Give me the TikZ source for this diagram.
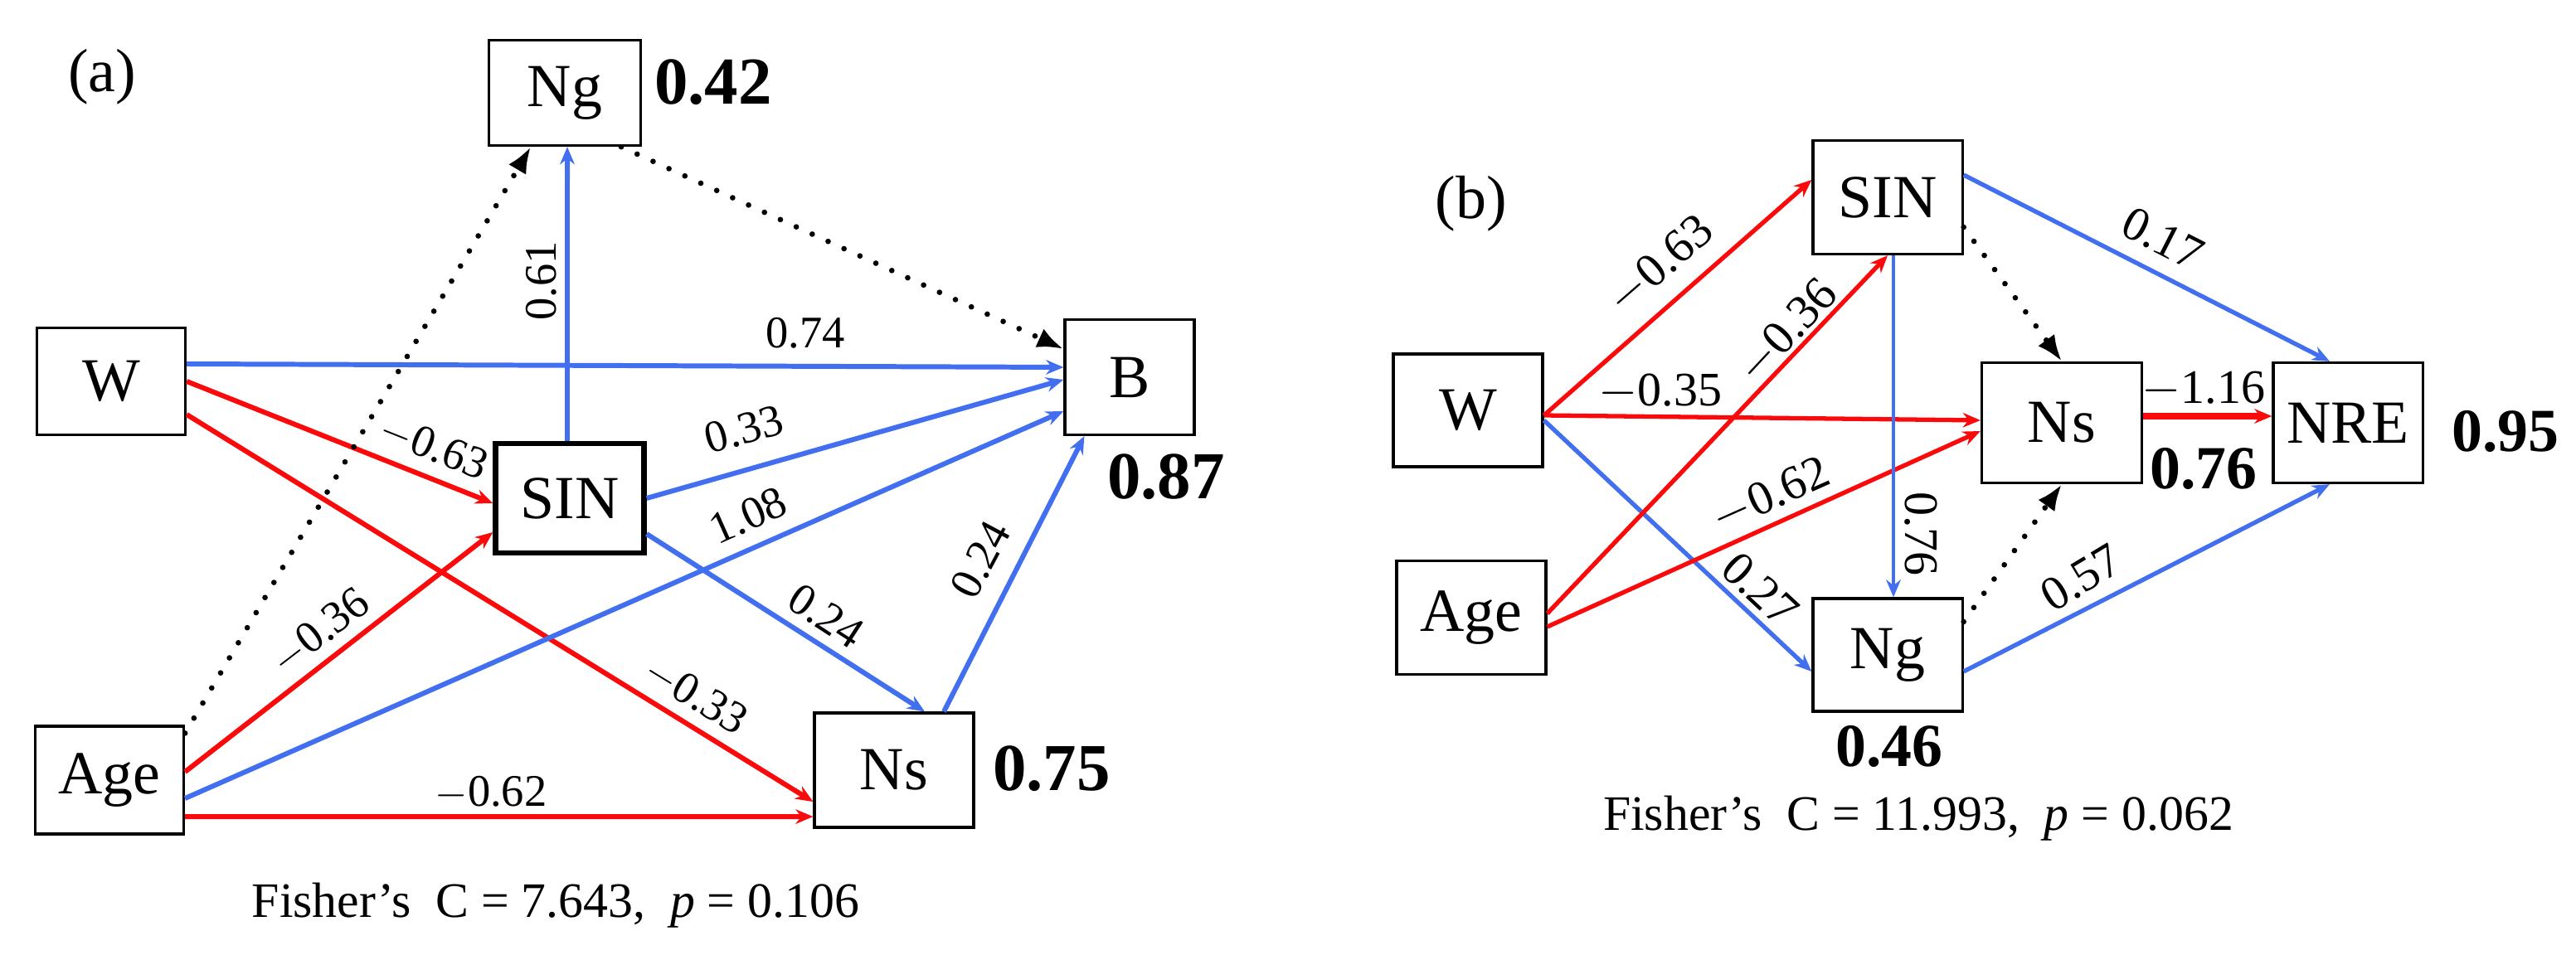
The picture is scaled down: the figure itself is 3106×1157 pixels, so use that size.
\documentclass[tikz,border=0pt]{standalone}
\usepackage{fontspec}
\setmainfont{Liberation Serif}
\usetikzlibrary{arrows.meta}
\definecolor{myred}{RGB}{250,10,10}
\definecolor{myblue}{RGB}{66,110,240}
\begin{document}
\begin{tikzpicture}[x=0.01cm,y=-0.01cm,
  box/.style={draw,line width=0.9pt,inner sep=0pt,minimum width=1.8cm,minimum height=1.32cm,font=\fontsize{21}{21}\selectfont},
  bnum/.style={font=\fontsize{23}{23}\selectfont\bfseries,inner sep=0pt},
  bnumb/.style={font=\fontsize{21}{21}\selectfont\bfseries,inner sep=0pt},
  lab/.style={font=\fontsize{15.5}{15.5}\selectfont,inner sep=0pt},
  labb/.style={font=\fontsize{16.5}{16.5}\selectfont,inner sep=0pt},
  posA/.style={myblue,line width=1.7pt,-{Stealth[length=6pt,width=5pt]}},
  negA/.style={myred,line width=1.7pt,-{Stealth[length=6pt,width=5pt]}},
  posB/.style={myblue,line width=1.5pt,-{Stealth[length=6pt,width=5pt]}},
  negB/.style={myred,line width=1.5pt,-{Stealth[length=6pt,width=5pt]}},
  dotA/.style={black,line width=1.9pt,line cap=round,dash pattern=on 0pt off 6pt,-{Latex[length=9pt,width=7pt]}},
  fish/.style={font=\fontsize{17}{17}\selectfont,inner sep=0pt}]
\useasboundingbox (0,0) rectangle (3106,1157);
% ---------- panel (a)
\node[font=\fontsize{21}{21}\selectfont] (la) at (123,93) {(a)};
\node[box,minimum width=1.83cm,minimum height=1.27cm] (aNg) at (681,112) {Ng};
\node[bnum] (aNgv) at (860,99) {0.42};
\node[box,minimum width=1.79cm,minimum height=1.29cm] (aW) at (134,460) {W};
\node[box,minimum width=1.56cm,minimum height=1.39cm] (aB) at (1362,455) {B};
\node[bnum] (aBv) at (1406,575) {0.87};
\node[box,line width=1.8pt,minimum width=1.79cm,minimum height=1.32cm] (aSIN) at (687,601) {SIN};
\node[box,minimum width=1.79cm,minimum height=1.3cm] (aAge) at (132,941) {Age};
\node[box,minimum width=1.92cm,minimum height=1.38cm] (aNs) at (1078,929) {Ns};
\node[bnum] (aNsv) at (1268,927) {0.75};
\node[fish] (fa) at (670,1092) {Fisher{\char"0027}s\ \ C = 7.643,\ \ \textit{p} = 0.106};

\draw[posA] ([yshift=0.21cm]aW.east) -- ([yshift=0.12cm]aB.west);
\draw[negA] (aW.east) -- ([yshift=-0.06cm]aSIN.west);
\draw[negA] ([yshift=-0.4cm]aW.east) -- ([yshift=-0.38cm]aNs.west);
\draw[dotA] ([yshift=-0.1cm]aAge.north east) -- ([xshift=-0.41cm]aNg.south);
\draw[dotA] ([xshift=0.68cm]aNg.south) -- ([yshift=0.34cm]aB.west);
\draw[posA] ([xshift=-0.03cm]aSIN.north) -- ([xshift=0.03cm]aNg.south);
\draw[posA] (aSIN.east) -- ([yshift=-0.03cm]aB.west);
\draw[negA] ([yshift=0.1cm]aAge.east) -- ([yshift=-0.41cm]aSIN.west);
\draw[posA] ([yshift=-0.22cm]aAge.east) -- ([yshift=-0.41cm]aB.west);
\draw[posA] ([yshift=-0.43cm]aSIN.east) -- ([xshift=0.37cm]aNs.north);
\draw[posA] ([xshift=0.6cm]aNs.north) -- ([xshift=0.25cm]aB.south west);
\draw[negA] ([yshift=-0.44cm]aAge.east) -- ([yshift=-0.56cm]aNs.west);

\node[lab] at (971,402) {0.74};
\node[lab,rotate=90] at (653,339) {0.61};
\node[lab,rotate=-21.7] at (523,540) {$-$0.63};
\node[lab,rotate=15.6] at (897,518) {0.33};
\node[lab,rotate=24] at (902,622) {1.08};
\node[lab,rotate=-33] at (996,743) {0.24};
\node[lab,rotate=62] at (1182,675) {0.24};
\node[lab,rotate=37.5] at (386,762) {$-$0.36};
\node[lab,rotate=-31.5] at (839,839) {$-$0.33};
\node[lab] at (592,956) {$-$0.62};

% ---------- panel (b)
\node[font=\fontsize{21}{21}\selectfont] (lb) at (1774,246) {(b)};
\node[box,minimum width=1.8cm,minimum height=1.37cm] (bSIN) at (2276,238) {SIN};
\node[box,minimum width=1.8cm,minimum height=1.36cm] (bW) at (1770,495) {W};
\node[box,minimum width=1.8cm,minimum height=1.37cm] (bAge) at (1774,745) {Age};
\node[box,minimum width=1.93cm,minimum height=1.45cm] (bNs) at (2486,510) {Ns};
\node[box,minimum width=1.8cm,minimum height=1.45cm] (bNRE) at (2831,510) {NRE};
\node[box,minimum width=1.8cm,minimum height=1.36cm] (bNg) at (2276,790) {Ng};
\node[bnumb] (bNREv) at (3021,520) {0.95};
\node[bnumb] (bNsv) at (2657,565) {0.76};
\node[bnumb] (bNgv) at (2278,900) {0.46};
\node[fish] (fb) at (2313,987) {Fisher{\char"0027}s\ \ C = 11.993,\ \ \textit{p} = 0.062};

\draw[negB] ([yshift=-0.06cm]bW.east) -- ([yshift=0.21cm]bSIN.west);
\draw[negB] ([yshift=-0.06cm]bW.east) -- ([yshift=0.03cm]bNs.west);
\draw[posB] ([yshift=-0.12cm]bW.east) -- ([yshift=-0.2cm]bNg.west);
\draw[negB] ([yshift=0.05cm]bAge.east) -- (bSIN.south);
\draw[negB] ([yshift=-0.11cm]bAge.east) -- ([yshift=-0.1cm]bNs.west);
\draw[myblue,line width=1pt,-{Stealth[length=6pt,width=5pt]}] ([xshift=0.07cm]bSIN.south) -- ([xshift=0.07cm]bNg.north);
\draw[dotA] ([yshift=-0.36cm]bSIN.east) -- (bNs.north);
\draw[dotA] ([yshift=0.4cm]bNg.east) -- (bNs.south);
\draw[posB] ([yshift=0.27cm]bSIN.east) -- ([xshift=-0.22cm]bNRE.north);
\draw[posB] ([yshift=-0.2cm]bNg.east) -- ([xshift=-0.22cm]bNRE.south);
\draw[negB,line width=2pt] ([yshift=0.08cm]bNs.east) -- ([yshift=0.08cm]bNRE.west);

\node[labb,rotate=41] at (2002,320) {$-$0.63};
\node[labb,rotate=47] at (2155,400) {$-$0.36};
\node[labb] at (2002,473) {$-$0.35};
\node[labb,rotate=24] at (2135,598) {$-$0.62};
\node[labb,rotate=-43] at (2122,711) {0.27};
\node[labb,rotate=-90] at (2316,644) {0.76};
\node[labb,rotate=-27] at (2608,288) {0.17};
\node[labb,rotate=31] at (2509,697) {0.57};
\node[labb] at (2657,470) {$-$1.16};
\end{tikzpicture}
\end{document}
